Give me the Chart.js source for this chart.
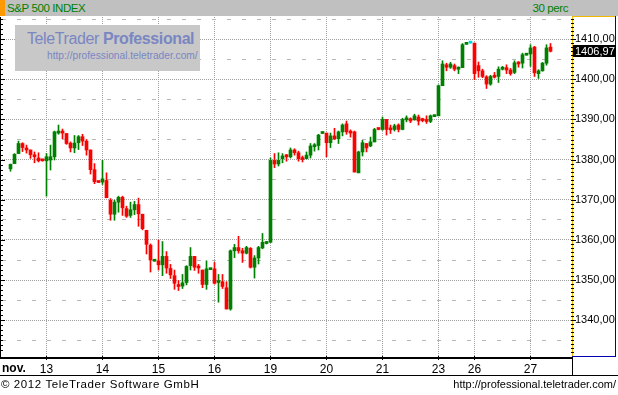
<!DOCTYPE html>
<html>
<head>
<meta charset="utf-8">
<script src="https://cdn.jsdelivr.net/npm/chart.js@4.4.0/dist/chart.umd.min.js"></script>
<style>
  body { margin: 0; background: #fff; }
  #wrap { position: relative; width: 618px; height: 395px; overflow: hidden; font-family: "Liberation Sans", Arial, sans-serif; }
  #chart { position: absolute; left: 0; top: 0; }
  .head { position: absolute; left: 0; top: 0; width: 618px; height: 16px; background: #c0c0c0; }
  .head .mark { position: absolute; left: 0; top: 0; width: 5px; height: 16px; background: #ff9900; }
  .head span { position: absolute; top: 1px; color: #008000; font: 11.5px "Liberation Sans", Arial, sans-serif; line-height: 14px; letter-spacing: -0.4px; }
  .logo { position: absolute; left: 15px; top: 25px; width: 185px; height: 46px; background: #c8c8c8; color: #7a86c2; }
  .logo .name { position: absolute; left: 12px; top: 5px; font-size: 16px; letter-spacing: -0.4px; white-space: nowrap; }
  .logo .url { position: absolute; left: 32px; top: 25px; font-size: 10.2px; white-space: nowrap; }
  .nov { position: absolute; left: 2px; top: 361px; font: bold 12px Arial, sans-serif; }
  .foot { position: absolute; top: 378px; font-size: 11.5px; white-space: nowrap; color: #000; }
</style>
</head>
<body>
<div id="wrap">
  <canvas id="chart" width="618" height="395"></canvas>
  <div class="head"><div class="mark"></div><span style="left:7px">S&amp;P 500 INDEX</span><span style="right:50px">30 perc</span></div>
  <div class="logo"><div class="name">TeleTrader <b>Professional</b></div><div class="url">http://professional.teletrader.com/</div></div>
  <div class="nov">nov.</div>
  <div class="foot" style="left:1px; letter-spacing:0.6px">© 2012 TeleTrader Software GmbH</div>
  <div class="foot" style="right:2px; font-size:11px">http://professional.teletrader.com/</div>
</div>
<script>
// 30 perces gyertyák, S&P 500, 2012 nov. 12 - 27
const opens = [
  1377.7, 1379.0, 1381.5, 1384.0, 1382.9, 1382.4, 1381.2, 1380.4, 1379.8, 1379.7,
  1379.9, 1380.7, 1386.6, 1386.9, 1386.5, 1384.1, 1382.9, 1384.2, 1385.7, 1384.6,
  1382.4, 1377.5, 1374.4, 1374.4, 1374.8, 1369.9, 1366.4, 1369.4, 1370.6, 1367.8,
  1366.1, 1367.5, 1368.8, 1366.4, 1362.4, 1358.7, 1354.7, 1354.8, 1353.8, 1355.9,
  1352.9, 1351.1, 1348.8, 1348.5, 1349.4, 1353.6, 1355.9, 1353.4, 1352.5, 1348.9,
  1352.6, 1352.8, 1349.4, 1349.6, 1348.1, 1342.8, 1357.3, 1358.1, 1357.3, 1356.7,
  1357.9, 1353.2, 1355.5, 1358.0, 1359.1, 1359.4, 1379.8, 1378.9, 1380.2, 1381.0,
  1380.7, 1382.4, 1381.7, 1380.1, 1380.2, 1381.1, 1383.2, 1383.5, 1386.5, 1386.6,
  1384.2, 1385.9, 1385.2, 1386.9, 1388.9, 1386.9, 1386.9, 1376.7, 1381.9, 1384.0,
  1383.4, 1384.4, 1387.6, 1387.5, 1390.0, 1387.6, 1387.5, 1388.6, 1387.5, 1389.9,
  1390.2, 1389.9, 1390.6, 1389.8, 1389.7, 1389.5, 1390.7, 1390.9, 1398.4, 1403.6,
  1403.0, 1403.4, 1402.5, 1402.9, 1408.7, 1409.0, 1409.0, 1403.4, 1402.1, 1400.6,
  1398.8, 1400.7, 1400.7, 1402.5, 1402.9, 1402.3, 1401.7, 1404.2, 1404.0, 1406.0,
  1406.3, 1408.0, 1401.4, 1402.1, 1404.0, 1408.0
];
const highs = [
  1378.9, 1381.5, 1384.6, 1384.2, 1383.6, 1382.4, 1381.9, 1381.7, 1379.8, 1381.5,
  1383.6, 1387.1, 1388.6, 1387.6, 1386.5, 1384.4, 1386.0, 1386.0, 1386.3, 1385.0,
  1382.4, 1379.0, 1374.4, 1379.8, 1376.7, 1370.3, 1369.9, 1370.9, 1370.9, 1368.4,
  1369.4, 1369.6, 1370.4, 1366.4, 1362.4, 1359.0, 1354.9, 1360.0, 1359.6, 1357.1,
  1353.9, 1352.5, 1349.9, 1351.4, 1353.6, 1358.1, 1355.9, 1353.9, 1352.5, 1354.8,
  1352.8, 1354.4, 1351.4, 1351.4, 1349.6, 1357.5, 1358.9, 1360.9, 1357.9, 1358.4,
  1358.1, 1356.1, 1358.4, 1361.6, 1359.6, 1380.4, 1381.5, 1381.7, 1381.5, 1381.3,
  1382.9, 1382.7, 1382.1, 1380.9, 1381.9, 1384.0, 1384.0, 1386.3, 1386.6, 1386.6,
  1386.6, 1387.8, 1387.1, 1388.9, 1389.6, 1387.4, 1387.1, 1382.1, 1384.8, 1384.0,
  1385.6, 1387.8, 1387.6, 1390.6, 1390.0, 1388.6, 1388.8, 1388.9, 1390.3, 1390.9,
  1390.4, 1391.3, 1391.1, 1390.3, 1390.9, 1391.1, 1390.9, 1398.6, 1404.6, 1404.0,
  1404.2, 1403.8, 1403.1, 1408.9, 1409.0, 1409.0, 1409.0, 1404.3, 1402.5, 1400.9,
  1401.0, 1401.7, 1403.1, 1403.2, 1403.6, 1402.7, 1404.6, 1404.4, 1406.5, 1406.2,
  1408.6, 1408.2, 1402.4, 1404.2, 1408.6, 1408.9
];
const lows = [
  1377.1, 1379.0, 1381.5, 1382.0, 1381.6, 1380.3, 1379.2, 1379.4, 1379.6, 1370.9,
  1377.4, 1379.9, 1386.3, 1385.2, 1383.8, 1381.9, 1381.7, 1382.5, 1383.5, 1381.1,
  1376.4, 1374.0, 1374.3, 1373.8, 1370.5, 1364.9, 1364.9, 1366.9, 1366.1, 1365.6,
  1365.6, 1366.3, 1363.4, 1362.5, 1356.5, 1352.0, 1354.7, 1352.5, 1351.1, 1351.7,
  1350.4, 1347.7, 1347.4, 1347.9, 1348.8, 1352.5, 1352.4, 1351.7, 1348.1, 1347.7,
  1352.6, 1349.0, 1344.5, 1347.9, 1342.8, 1342.5, 1355.6, 1356.7, 1354.4, 1356.5,
  1353.0, 1350.5, 1354.0, 1357.8, 1359.0, 1359.4, 1378.0, 1378.4, 1379.2, 1379.6,
  1380.4, 1381.1, 1379.6, 1379.4, 1380.2, 1380.4, 1382.1, 1382.4, 1386.5, 1380.7,
  1383.0, 1385.0, 1384.0, 1385.9, 1386.3, 1385.6, 1376.9, 1376.7, 1380.9, 1381.9,
  1383.2, 1384.4, 1387.4, 1387.3, 1386.1, 1386.5, 1387.1, 1386.9, 1387.4, 1389.4,
  1389.2, 1389.8, 1388.6, 1389.4, 1389.0, 1389.2, 1390.7, 1390.9, 1398.4, 1402.1,
  1402.7, 1402.1, 1401.4, 1402.9, 1408.7, 1409.0, 1399.9, 1400.5, 1400.4, 1397.7,
  1398.5, 1400.3, 1399.2, 1402.3, 1401.4, 1401.0, 1401.4, 1403.0, 1402.8, 1406.0,
  1403.2, 1400.7, 1400.2, 1402.0, 1403.5, 1406.8
];
const closes = [
  1378.8, 1381.3, 1384.0, 1383.0, 1382.4, 1381.2, 1380.7, 1379.7, 1379.7, 1380.7,
  1380.7, 1386.9, 1386.9, 1386.6, 1384.0, 1382.9, 1384.1, 1385.7, 1384.6, 1382.4,
  1377.5, 1374.5, 1374.3, 1375.2, 1370.5, 1366.4, 1369.4, 1370.6, 1368.0, 1365.9,
  1367.5, 1368.8, 1366.5, 1362.8, 1358.9, 1355.0, 1354.8, 1353.8, 1355.9, 1353.0,
  1351.3, 1349.2, 1348.4, 1349.3, 1353.4, 1355.9, 1353.2, 1353.0, 1348.9, 1352.8,
  1352.7, 1349.2, 1349.6, 1348.4, 1342.8, 1357.3, 1358.1, 1357.3, 1356.7, 1358.1,
  1353.2, 1355.5, 1358.1, 1359.4, 1359.4, 1379.8, 1378.9, 1379.8, 1380.9, 1380.7,
  1382.4, 1381.7, 1380.2, 1380.0, 1381.1, 1383.4, 1383.5, 1386.1, 1386.6, 1384.2,
  1385.9, 1385.2, 1386.9, 1388.6, 1386.9, 1386.6, 1376.9, 1381.9, 1384.2, 1382.9,
  1384.4, 1387.5, 1387.5, 1390.0, 1387.5, 1387.4, 1388.4, 1387.5, 1390.0, 1390.1,
  1389.6, 1390.9, 1389.6, 1389.7, 1389.5, 1390.9, 1390.8, 1398.4, 1403.8, 1403.0,
  1403.8, 1402.5, 1402.9, 1408.6, 1408.9, 1409.0, 1401.4, 1402.1, 1400.7, 1398.8,
  1400.7, 1400.5, 1402.5, 1402.9, 1402.3, 1401.4, 1404.1, 1403.8, 1406.1, 1406.1,
  1407.8, 1401.6, 1402.1, 1404.0, 1407.8, 1406.97
];

// a napok első gyertyájának sorszáma és a felirat
const dayStarts = [9, 23, 37, 51, 65, 79, 93, 107, 116, 130];
const dayLabels = ["13", "14", "15", "16", "19", "20", "21", "23", "26", "27"];
const yTicks = [1335, 1340, 1345, 1350, 1355, 1360, 1365, 1370, 1375,
                1380, 1385, 1390, 1395, 1400, 1405, 1410, 1415];

const UP = "#008000", DOWN = "#ff0000", FLAT = "#00d8e0";

function candleColor(i) {
    if (closes[i] > opens[i]) return UP;
    if (closes[i] < opens[i]) return DOWN;
    return FLAT;
}

function fmt(v) {
    return v.toFixed(2).replace(".", ",");
}

Chart.defaults.font.family = "'Liberation Sans', Arial, sans-serif";
Chart.defaults.color = "#000";

const frame = {
    id: "frame",
    afterDraw(chart) {
        const c = chart.ctx, y = chart.scales.y;
        c.save();
        // bal oldali skála
        c.fillStyle = "#000";
        c.fillRect(0, 17, 1, 340);
        for (let v = 1332.5; v <= 1415; v += 1.25) {
            const p = Math.round(y.getPixelForValue(v));
            c.fillRect(0, p, v % 10 === 0 ? 5 : 3, 1);
        }
        // jobb oldali panel
        c.fillStyle = "#f0b800";
        c.fillRect(572, 16, 1, 341);
        c.fillRect(572, 16, 44, 1);
        c.fillStyle = "#0000b0";
        c.fillRect(615, 16, 1, 341);
        c.fillRect(572, 356, 44, 1);
        c.fillStyle = "#000";
        for (let v = 1332; v <= 1415; v++) {
            const p = Math.round(y.getPixelForValue(v));
            c.fillRect(571, p, v % 10 === 0 ? 5 : 3, 1);
        }
        // alsó keretek
        c.fillRect(0, 357, 573, 2);
        c.fillRect(0, 375, 618, 1);
        c.fillRect(572, 357, 1, 19);
        // utolsó ár
        const last = closes[closes.length - 1];
        const py = Math.round(y.getPixelForValue(last));
        c.fillRect(573, py - 6, 43, 12);
        c.fillStyle = "#fff";
        c.font = "11px 'Liberation Sans', Arial, sans-serif";
        c.textBaseline = "middle";
        c.fillText(fmt(last), 575, py + 0.5);
        c.restore();
    }
};

new Chart(document.getElementById("chart"), {
    type: "bar",
    data: {
        datasets: [{
            label: "wick",
            data: lows.map((l, i) => ({ x: i, y: [l, highs[i]] })),
            backgroundColor: ctx => candleColor(ctx.dataIndex),
            barThickness: 1,
            grouped: false,
            order: 2
        }, {
            label: "body",
            data: opens.map((o, i) => ({ x: i, y: [o, closes[i]] })),
            backgroundColor: ctx => candleColor(ctx.dataIndex),
            barThickness: 3,
            minBarLength: 2,
            grouped: false,
            order: 1
        }]
    },
    options: {
        responsive: false,
        animation: false,
        layout: { padding: { left: 2, top: 17, right: 0, bottom: 19 } },
        plugins: { legend: { display: false }, tooltip: { enabled: false } },
        scales: {
            x: {
                type: "linear",
                min: -2.125,
                max: 140.375,
                offset: false,
                afterBuildTicks: s => { s.ticks = dayStarts.map(v => ({ value: v })); },
                afterFit: s => { s.height = 20; },
                grid: { color: "#a0a0a0", offset: false, tickLength: 4, tickColor: "#000" },
                border: { display: false, dash: [1, 1] },
                ticks: {
                    autoSkip: false,
                    maxRotation: 0,
                    padding: 2,
                    font: { size: 12 },
                    callback: (v, i) => dayLabels[i]
                }
            },
            y: {
                position: "right",
                min: 1331.1,
                max: 1415.5,
                afterBuildTicks: s => { s.ticks = yTicks.map(v => ({ value: v })); },
                afterFit: s => { s.width = 46; },
                grid: {
                    drawTicks: false,
                    color: ctx => ctx.tick.value % 10 === 0 ? "#a0a0a0" : "#b8b8b8"
                },
                border: {
                    display: false,
                    dash: ctx => ctx.tick.value % 10 === 0 ? [1, 1] : [4, 11]
                },
                ticks: {
                    padding: 3,
                    font: { size: 11 },
                    callback: v => v % 10 === 0 ? fmt(v) : ""
                }
            }
        }
    },
    plugins: [frame]
});
</script>
</body>
</html>
